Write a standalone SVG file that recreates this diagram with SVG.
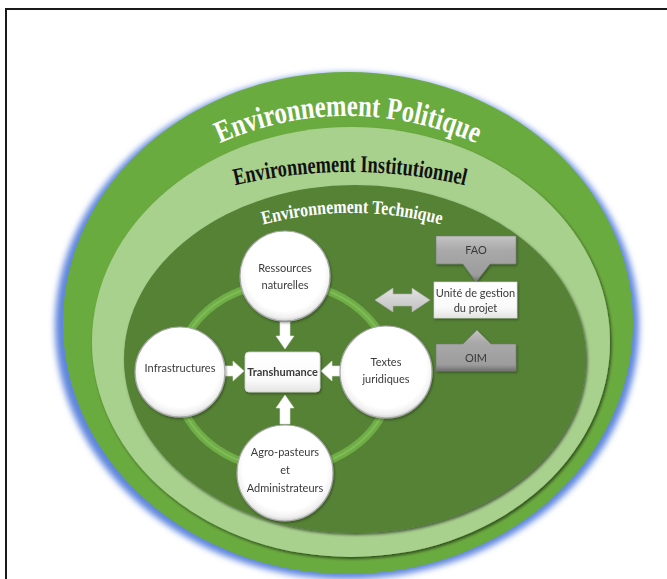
<svg xmlns="http://www.w3.org/2000/svg" width="667" height="579" viewBox="0 0 667 579">
<defs>
<style>
.ring-title{font-family:"Liberation Serif","Times New Roman",serif;font-weight:bold}
.lbl{font-family:Lato,"Noto Sans",sans-serif;font-size:11px;fill:#3a3a3a;text-anchor:middle}
.node-c{fill:url(#cgrad);stroke:#a8a8a8;stroke-width:1.2}
.warrow{fill:#ffffff;stroke:#e0e0e0;stroke-width:0.6}
.gbox{fill:url(#ggrad);stroke:#7a7a7a;stroke-width:0.6}
</style>
<radialGradient id="cgrad" cx="50%" cy="45%" r="55%">
<stop offset="0" stop-color="#ffffff"/>
<stop offset="0.8" stop-color="#ffffff"/>
<stop offset="0.93" stop-color="#f0f0f0"/>
<stop offset="1" stop-color="#cfcfcf"/>
</radialGradient>
<linearGradient id="ggrad" x1="0" y1="0" x2="0" y2="1">
<stop offset="0" stop-color="#c4c4c4"/>
<stop offset="0.3" stop-color="#a9a9a9"/>
<stop offset="0.85" stop-color="#9c9c9c"/>
<stop offset="1" stop-color="#6f6f6f"/>
</linearGradient>
<linearGradient id="wgrad" x1="0" y1="0" x2="0" y2="1">
<stop offset="0" stop-color="#ffffff"/>
<stop offset="0.7" stop-color="#fafafa"/>
<stop offset="1" stop-color="#e4e4e4"/>
</linearGradient>
<linearGradient id="dgrad" x1="0" y1="0" x2="0" y2="1">
<stop offset="0" stop-color="#e2e2e2"/>
<stop offset="1" stop-color="#c2c2c2"/>
</linearGradient>
<filter id="glow" x="-10%" y="-10%" width="120%" height="120%">
<feGaussianBlur stdDeviation="3"/>
</filter>
<filter id="sh" x="-10%" y="-10%" width="120%" height="120%">
<feDropShadow dx="1.5" dy="2" stdDeviation="1.5" flood-color="#000" flood-opacity="0.55"/>
</filter>
<filter id="sh2" x="-20%" y="-20%" width="140%" height="140%">
<feDropShadow dx="1" dy="1.5" stdDeviation="1.2" flood-color="#000" flood-opacity="0.35"/>
</filter>
<path id="arcP" d="M 100 238 A 313 313 0 0 1 596 238"/>
<path id="arcI" d="M 50 272 A 500 500 0 0 1 650 272"/>
<path id="arcT" d="M 102 318 A 350 350 0 0 1 602 318"/>
</defs>

<rect width="667" height="579" fill="#ffffff"/>
<rect x="6" y="9" width="700" height="600" fill="none" stroke="#1a1a1a" stroke-width="2"/>

<g id="environnement-politique">
<ellipse cx="347" cy="326" rx="292" ry="253" fill="#5f86dd" filter="url(#glow)"/>
<ellipse cx="348" cy="323" rx="285" ry="251" fill="#6aab3f"/>
<text class="ring-title" font-size="31" fill="#ffffff"><textPath href="#arcP" startOffset="50%" text-anchor="middle" textLength="264" lengthAdjust="spacingAndGlyphs">Environnement Politique</textPath></text>
</g>

<g id="environnement-institutionnel">
<ellipse cx="351" cy="342" rx="259" ry="215" fill="#a9d18e" filter="url(#sh)"/>
<text class="ring-title" font-size="24" fill="#111111"><textPath href="#arcI" startOffset="50%" text-anchor="middle" textLength="232" lengthAdjust="spacingAndGlyphs">Environnement Institutionnel</textPath></text>
</g>

<g id="environnement-technique">
<ellipse cx="355" cy="359" rx="231" ry="174" fill="#548235" filter="url(#sh)"/>
<text class="ring-title" font-size="19" fill="#ffffff"><textPath href="#arcT" startOffset="50%" text-anchor="middle" textLength="180" lengthAdjust="spacingAndGlyphs">Environnement Technique</textPath></text>
</g>

<g id="cycle-ring">
<ellipse cx="284" cy="376" rx="108" ry="93" fill="none" stroke="#6fae46" stroke-width="8"/>
<ellipse cx="284" cy="376" rx="108" ry="93" fill="none" stroke="#80bb57" stroke-width="2"/>
</g>

<g id="connectors">
<polygon class="warrow" points="280,322 290,322 290,336 294,336 285,349 276,336 280,336"/>
<polygon class="warrow" points="223,366 233,366 233,361 244,371 233,381 233,376 223,376"/>
<polygon class="warrow" points="343,366 332,366 332,361 321,371 332,381 332,376 343,376"/>
<polygon class="warrow" points="280,424 290,424 290,408 294,408 285,395 276,408 280,408"/>
<polygon points="375,300 393,288 393,294 412,294 412,288 430,300 412,312 412,306 393,306 393,312" fill="url(#dgrad)" stroke="#b0b0b0" stroke-width="0.6"/>
</g>

<g id="node-ressources" filter="url(#sh2)">
<circle class="node-c" cx="285" cy="276" r="45"/>
<text class="lbl" x="285" y="272">Ressources</text>
<text class="lbl" x="285" y="289">naturelles</text>
</g>

<g id="node-infrastructures" filter="url(#sh2)">
<circle class="node-c" cx="180" cy="372" r="45"/>
<text class="lbl" x="180" y="372">Infrastructures</text>
</g>

<g id="node-textes" filter="url(#sh2)">
<circle class="node-c" cx="386" cy="372" r="46"/>
<text class="lbl" x="386" y="366">Textes</text>
<text class="lbl" x="386" y="383">juridiques</text>
</g>

<g id="node-agro" filter="url(#sh2)">
<circle class="node-c" cx="285" cy="473" r="48"/>
<text class="lbl" x="285" y="456">Agro-pasteurs</text>
<text class="lbl" x="285" y="474">et</text>
<text class="lbl" x="285" y="492">Administrateurs</text>
</g>

<g id="node-transhumance" filter="url(#sh2)">
<rect x="245" y="352" width="75" height="40" rx="4" fill="url(#wgrad)" stroke="#d0d0d0" stroke-width="0.8"/>
<text class="lbl" x="282.5" y="376" font-weight="bold" fill="#111111" font-size="10.5">Transhumance</text>
</g>

<g id="node-fao" filter="url(#sh2)">
<path class="gbox" d="M436 236 H516 V264 H490 L476 282 L463 264 H436 Z"/>
<text class="lbl" x="476" y="254" fill="#f4f4f4">FAO</text>
</g>

<g id="node-unite" filter="url(#sh2)">
<rect x="434" y="282" width="83" height="36" fill="url(#wgrad)" stroke="#d6d6d6" stroke-width="0.6"/>
<text class="lbl" x="475.5" y="297" font-size="10">Unité de gestion</text>
<text class="lbl" x="475.5" y="312" font-size="10">du projet</text>
</g>

<g id="node-oim" filter="url(#sh2)">
<path class="gbox" d="M436 344 H463 L477 330 L491 344 H516 V371 H436 Z"/>
<text class="lbl" x="476" y="362" fill="#f4f4f4">OIM</text>
</g>
</svg>
